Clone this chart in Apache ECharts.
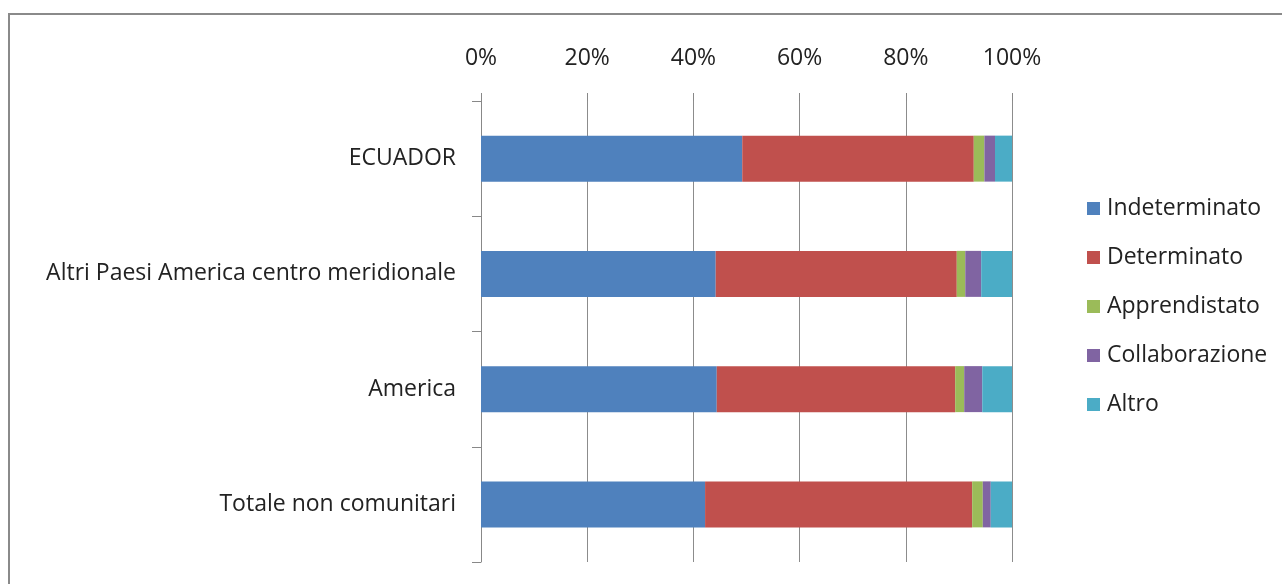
<!DOCTYPE html>
<html>
<head>
<meta charset="utf-8">
<script src="https://cdn.jsdelivr.net/npm/echarts@6/dist/echarts.min.js"></script>
<style>
html,body{margin:0;padding:0;background:#fff;}
#chart{width:1282px;height:584px;}
</style>
</head>
<body>
<div id="chart"></div>
<script>
const categories = ["ECUADOR", "Altri Paesi America centro meridionale", "America", "Totale non comunitari"];
const seriesNames = ["Indeterminato", "Determinato", "Apprendistato", "Collaborazione", "Altro"];
const indeterminato = [49.2, 44.2, 44.4, 42.2];
const determinato = [43.6, 45.4, 44.9, 50.3];
const apprendistato = [2.0, 1.6, 1.7, 2.0];
const collaborazione = [2.0, 3.0, 3.4, 1.5];
const altro = [3.2, 5.8, 5.6, 4.0];
const xTicks = [0, 20, 40, 60, 80, 100];

const colors = ["#4F81BD", "#C0504D", "#9BBB59", "#8064A2", "#4BACC6"];
const values = [indeterminato, determinato, apprendistato, collaborazione, altro];
const FONT = "Open Sans";

const chart = echarts.init(document.getElementById('chart'), null, {renderer: 'canvas'});
chart.setOption({
  animation: false,
  backgroundColor: '#fff',
  color: colors,
  graphic: [{
    type: 'rect', silent: true, z: 100,
    shape: {x: 9, y: 14, width: 1320, height: 620},
    style: {fill: 'none', stroke: '#8a8a8a', lineWidth: 2}
  }],
  grid: {left: 481, right: 270, top: 101, bottom: 22, containLabel: false},
  legend: {
    orient: 'vertical',
    left: 1087, top: 197, padding: 0,
    itemWidth: 13, itemHeight: 13,
    itemGap: 26,
    icon: 'rect',
    data: seriesNames,
    textStyle: {fontFamily: FONT, fontSize: 23, color: '#222', lineHeight: 22, padding: [0, 0, 0, 2]}
  },
  xAxis: {
    type: 'value', position: 'top',
    min: xTicks[0], max: xTicks[xTicks.length - 1], interval: 20,
    axisLine: {show: false},
    axisTick: {show: true, length: 8, lineStyle: {color: '#888'}},
    splitLine: {show: true, lineStyle: {color: '#8c8c8c', width: 1}},
    axisLabel: {formatter: '{value}%', margin: 31, fontFamily: FONT, fontSize: 23, color: '#222'}
  },
  yAxis: {
    type: 'category', inverse: true, data: categories,
    axisLine: {show: true, lineStyle: {color: '#888'}},
    axisTick: {show: true, length: 9, lineStyle: {color: '#888'}},
    axisLabel: {margin: 25, fontFamily: FONT, fontSize: 23, color: '#222', padding: [4, 0, 0, 0]}
  },
  series: seriesNames.map((n, i) => ({
    name: n, type: 'bar', stack: 'total', barWidth: 46,
    data: values[i],
    itemStyle: {color: colors[i]}
  }))
});
</script>
</body>
</html>
